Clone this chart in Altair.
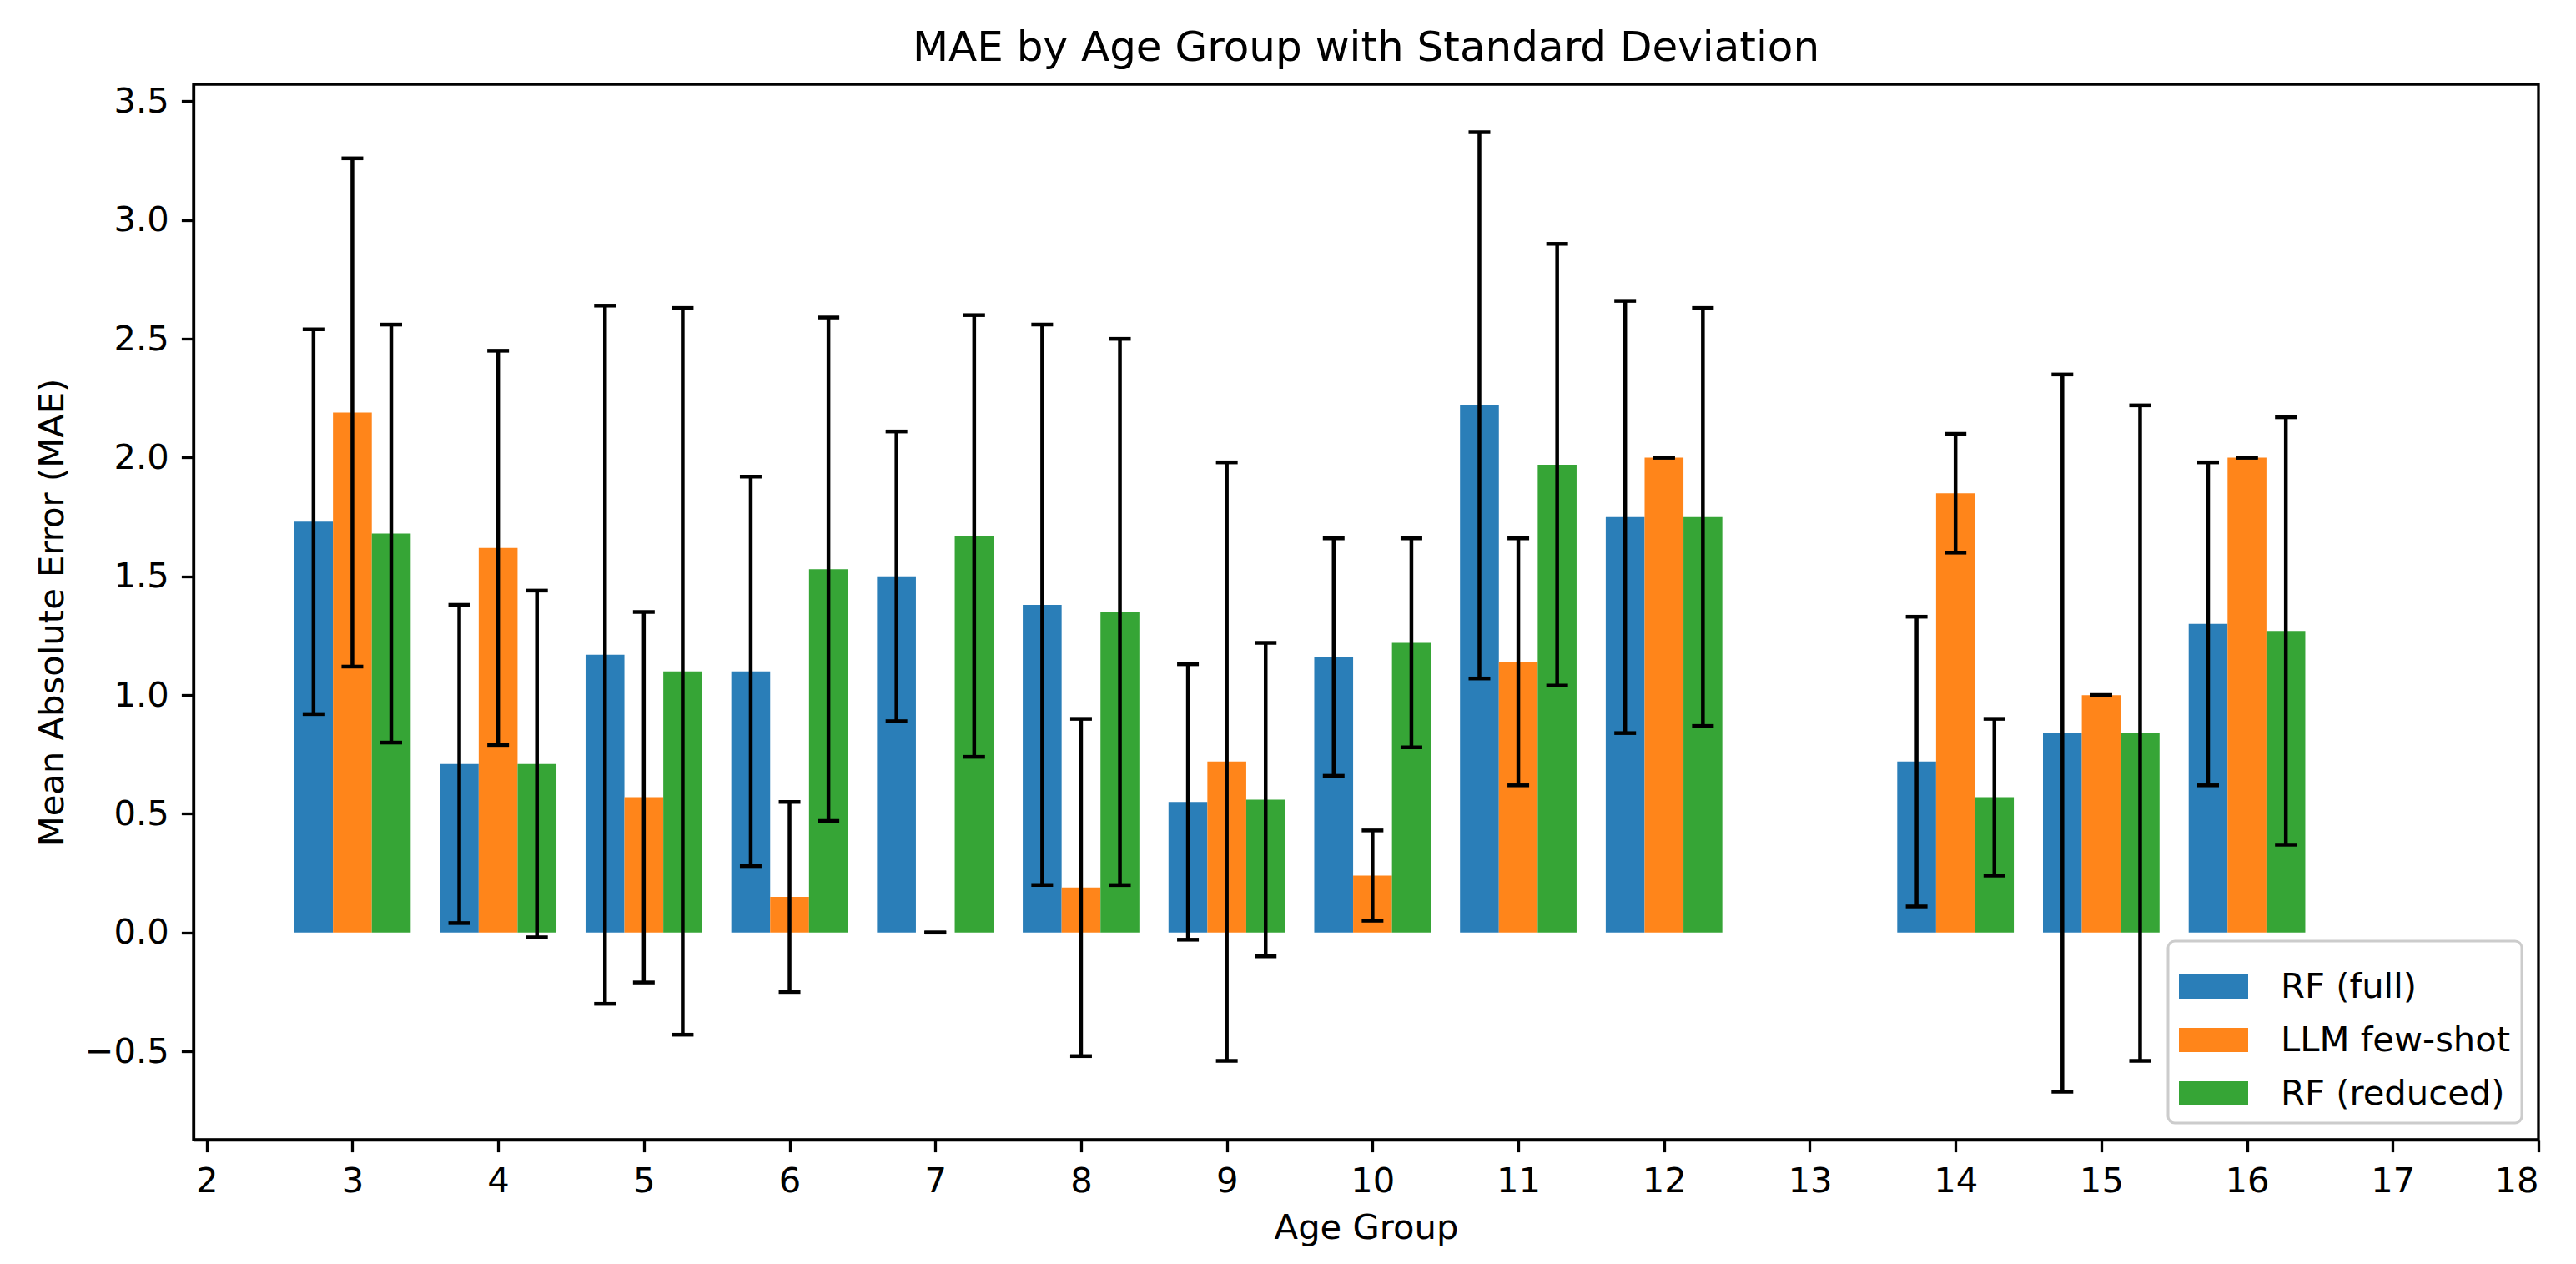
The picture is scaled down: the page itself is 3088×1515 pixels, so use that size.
import altair as alt
import pandas as pd

# ---- data ----
ages = [3, 4, 5, 6, 7, 8, 9, 10, 11, 12, 14, 15, 16]
models = ["RF (full)", "LLM few-shot", "RF (reduced)"]

rf_full_mae = [1.73, 0.71, 1.17, 1.10, 1.50, 1.38, 0.55, 1.16, 2.22, 1.75, 0.72, 0.84, 1.30]
rf_full_std = [0.81, 0.67, 1.47, 0.82, 0.61, 1.18, 0.58, 0.50, 1.15, 0.91, 0.61, 1.51, 0.68]

llm_mae = [2.19, 1.62, 0.57, 0.15, 0.00, 0.19, 0.72, 0.24, 1.14, 2.00, 1.85, 1.00, 2.00]
llm_std = [1.07, 0.83, 0.78, 0.40, 0.00, 0.71, 1.26, 0.19, 0.52, 0.00, 0.25, 0.00, 0.00]

rf_red_mae = [1.68, 0.71, 1.10, 1.53, 1.67, 1.35, 0.56, 1.22, 1.97, 1.75, 0.57, 0.84, 1.27]
rf_red_std = [0.88, 0.73, 1.53, 1.06, 0.93, 1.15, 0.66, 0.44, 0.93, 0.88, 0.33, 1.38, 0.90]

x_ticks = list(range(2, 19))
y_ticks = [-0.5, 0.0, 0.5, 1.0, 1.5, 2.0, 2.5, 3.0, 3.5]

colors = ["#2a7eb8", "#ff851a", "#36a536"]
bar_width = 0.8 / 3

rows = []
for k, (m, maes, stds) in enumerate(zip(models,
                                        [rf_full_mae, llm_mae, rf_red_mae],
                                        [rf_full_std, llm_std, rf_red_std])):
    for a, v, s in zip(ages, maes, stds):
        rows.append({"age": a, "model": m, "k": k, "mae": v, "std": s})
df = pd.DataFrame(rows)

FONT = "DejaVu Sans"

x_scale = alt.Scale(domain=[1.91, 18], nice=False, zero=False)
y_scale = alt.Scale(domain=[-0.872, 3.572], nice=False, zero=False)
x_axis = alt.Axis(values=x_ticks, format="d", title="Age Group", grid=False)
y_axis = alt.Axis(values=y_ticks, format=".1f", title="Mean Absolute Error (MAE)", grid=False)

base = alt.Chart(df).transform_calculate(
    center=f"datum.age + (datum.k - 1) * {bar_width}",
    x0=f"datum.age + (datum.k - 1) * {bar_width} - {bar_width / 2}",
    x1=f"datum.age + (datum.k - 1) * {bar_width} + {bar_width / 2}",
    lo="datum.mae - datum.std",
    hi="datum.mae + datum.std",
    zero="0",
)

X_ERR = alt.X("center:Q", scale=x_scale, axis=x_axis, title="Age Group")

bars = base.mark_bar(opacity=1, strokeWidth=0).encode(
    x=alt.X("x0:Q", scale=x_scale, axis=x_axis, title="Age Group"),
    x2="x1:Q",
    y=alt.Y("mae:Q", scale=y_scale, axis=y_axis, title="Mean Absolute Error (MAE)"),
    y2="zero:Q",
    color=alt.Color("model:N", scale=alt.Scale(domain=models, range=colors),
                    legend=alt.Legend(title=None)),
)

rules = base.mark_rule(color="black", strokeWidth=4.5).encode(
    x=X_ERR,
    y=alt.Y("lo:Q", scale=y_scale, axis=y_axis, title="Mean Absolute Error (MAE)"),
    y2="hi:Q",
)

caps_top = base.mark_tick(color="black", orient="horizontal", size=26, thickness=4.5, opacity=1).encode(
    x=X_ERR,
    y=alt.Y("hi:Q", scale=y_scale, axis=y_axis, title="Mean Absolute Error (MAE)"),
)
caps_bot = base.mark_tick(color="black", orient="horizontal", size=26, thickness=4.5, opacity=1).encode(
    x=X_ERR,
    y=alt.Y("lo:Q", scale=y_scale, axis=y_axis, title="Mean Absolute Error (MAE)"),
)

chart = alt.layer(bars, rules, caps_top, caps_bot).properties(
    width=2811,
    height=1265,
    title=alt.TitleParams(
        "MAE by Age Group with Standard Deviation",
        font=FONT, fontSize=50, fontWeight="normal", color="black",
        anchor="middle", frame="group", offset=18,
    ),
    autosize=alt.AutoSizeParams(type="none"),
    padding={"left": 224, "top": 93, "right": 30, "bottom": 140},
).configure_view(
    stroke="black", strokeWidth=3.3
).configure_axis(
    labelFont=FONT, labelFontSize=41.7, labelColor="black",
    titleFont=FONT, titleFontSize=41.7, titleFontWeight="normal", titleColor="black",
    tickColor="black", tickSize=14.6, tickWidth=3.3,
    domainColor="black", domainWidth=3.3, labelPadding=15,
).configure_axisX(
    labelPadding=15, titlePadding=14,
).configure_axisY(
    titlePadding=17,
).configure_legend(
    orient="bottom-right", offset=20, padding=13, cornerRadius=8,
    strokeColor="#cccccc", strokeWidth=3, fillColor="white",
    labelFont=FONT, labelFontSize=41.7, labelColor="black", labelLimit=0,
    symbolType="M-1,-0.35H1V0.35H-1Z", symbolSize=6889, symbolStrokeWidth=0,
    symbolOpacity=1, labelOffset=39, rowPadding=-3,
)

chart.save("out.html", embed_options={"renderer": "svg", "actions": False})
